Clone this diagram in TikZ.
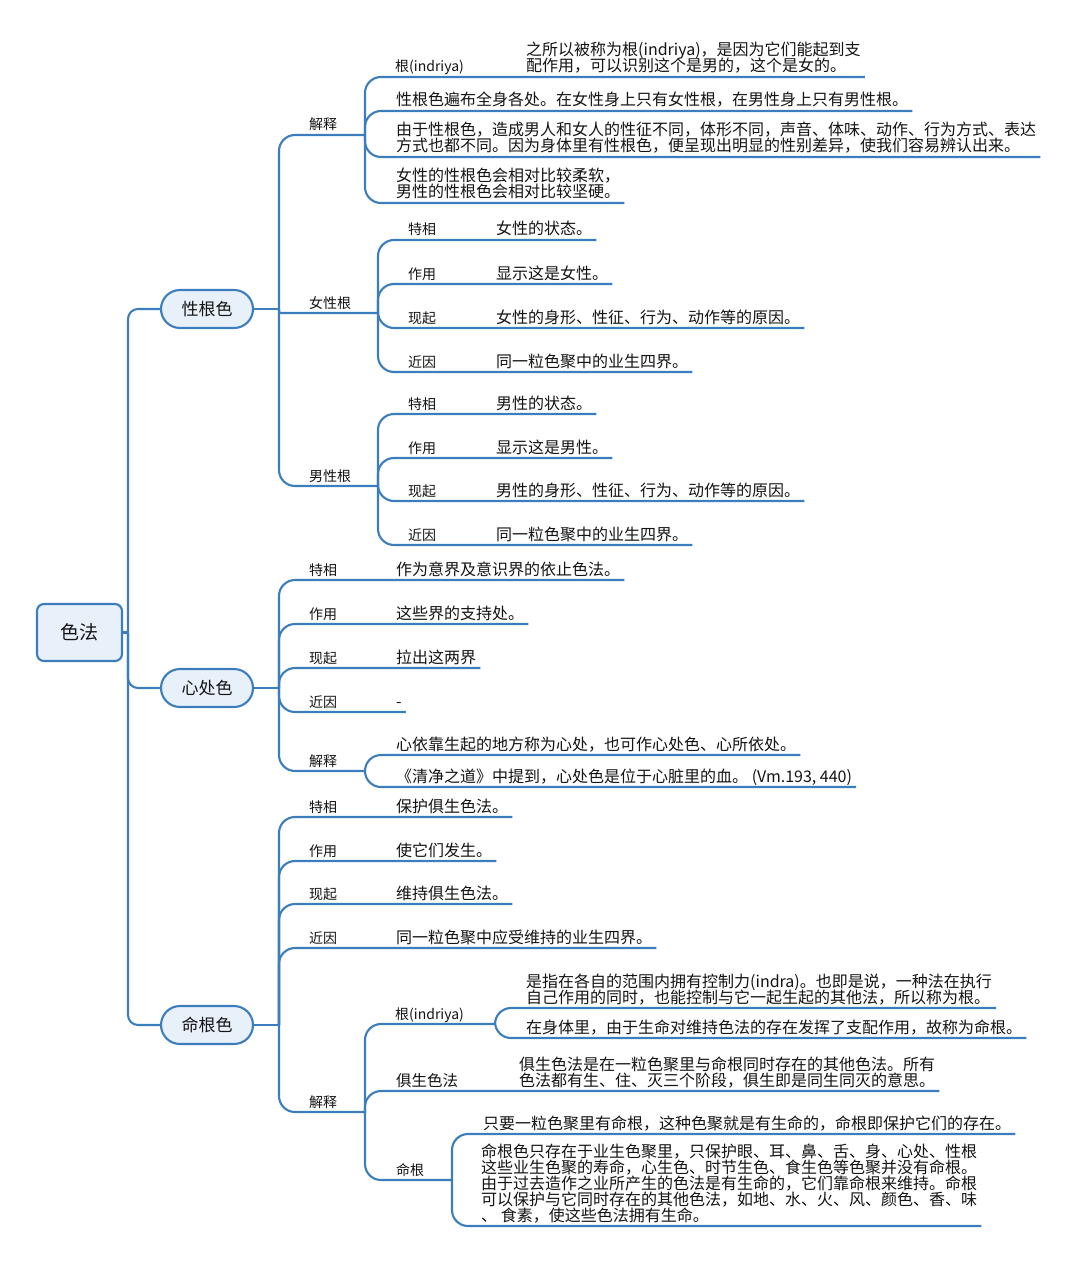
\documentclass[tikz,border=0pt]{standalone}
\usepackage{fontspec}
\setmainfont{Noto Sans CJK SC}
\definecolor{lnblue}{RGB}{59,125,189}
\definecolor{ndfill}{RGB}{232,241,250}
\definecolor{txt}{RGB}{20,20,20}
\newcommand\ml[1]{\vbox{\baselineskip=16pt\lineskiplimit=-20pt #1}}
\tikzset{
  conn/.style={draw=lnblue, line width=2.1pt, rounded corners=16pt},
  lbl/.style={anchor=base west, inner sep=0pt, font=\fontsize{14}{16}\selectfont, text=txt},
  dsc/.style={anchor=base west, inner sep=0pt, font=\fontsize{16}{16}\selectfont, text=txt},
  topic/.style={draw=lnblue, fill=ndfill, line width=2.1pt, rounded corners=19pt,
    minimum width=92pt, minimum height=38pt, inner sep=0pt, font=\fontsize{17}{17}\selectfont, text=txt},
  rootbox/.style={draw=lnblue, fill=ndfill, line width=2.1pt, rounded corners=7pt,
    minimum width=85pt, minimum height=57pt, inner sep=0pt, font=\fontsize{19}{19}\selectfont, text=txt},
  endp/.style={xshift=4pt, yshift=-5pt}
}
\begin{document}
\begin{tikzpicture}[x=1pt, y=-1pt]
\fill[white] (0,0) rectangle (1080,1265);
\useasboundingbox (0,0) rectangle (1080,1265);

% ---------- root and main topics ----------
\node[rootbox] (root) at (79.5,632.5) {色法};
\node[topic] (xg) at (207,309) {性根色};
\node[topic] (xc) at (207,688) {心处色};
\node[topic] (mg) at (207,1025) {命根色};
\coordinate (trunk) at (128,632.5);
\draw[conn] (root.east) -- (trunk);
\draw[conn, rounded corners=10pt] (trunk) |- (xg.west);
\draw[conn, rounded corners=10pt] (trunk) |- (xc.west);
\draw[conn, rounded corners=10pt] (trunk) |- (mg.west);

% ---------- 性根色 ----------
\coordinate (jxg) at (279,309);
\draw[conn] (xg.east) -- (jxg);

\node[lbl] (xgjs) at (309,130) {解释};
\coordinate (jxgjs) at (365,135);
\draw[conn] (jxg) |- (jxgjs);

\node[lbl] (xggen) at (395,72) {根(indriya)};
\node[dsc] (xggend) at (526,72) {\ml{\hbox{之所以被称为根(indriya)，是因为它们能起到支}\hbox{配作用，可以识别这个是男的，这个是女的。}}};
\draw[conn] (jxgjs) |- ([endp]xggend.base east);

\node[dsc] (xgjs2) at (396,106) {性根色遍布全身各处。在女性身上只有女性根，在男性身上只有男性根。};
\draw[conn] (jxgjs) |- ([endp]xgjs2.base east);

\node[dsc] (xgjs3) at (396,152) {\ml{\hbox{由于性根色，造成男人和女人的性征不同，体形不同，声音、体味、动作、行为方式、表达}\hbox{方式也都不同。因为身体里有性根色，便呈现出明显的性别差异，使我们容易辨认出来。}}};
\draw[conn] (jxgjs) |- ([endp]xgjs3.base east);

\node[dsc] (xgjs4) at (396,198) {\ml{\hbox{女性的性根色会相对比较柔软，}\hbox{男性的性根色会相对比较坚硬。}}};
\draw[conn] (jxgjs) |- ([endp]xgjs4.base east);

% 女性根
\node[lbl] (nv) at (309,308) {女性根};
\coordinate (jnv) at (378,313);
\draw[conn, rounded corners=2pt] (jxg) |- (jnv);

\node[lbl] (nv1) at (408,235) {特相};
\node[dsc] (nv1d) at (496,235) {女性的状态。};
\draw[conn] (jnv) |- ([endp]nv1d.base east);
\node[lbl] (nv2) at (408,279) {作用};
\node[dsc] (nv2d) at (496,279) {显示这是女性。};
\draw[conn] (jnv) |- ([endp]nv2d.base east);
\node[lbl] (nv3) at (408,323) {现起};
\node[dsc] (nv3d) at (496,323) {女性的身形、性征、行为、动作等的原因。};
\draw[conn] (jnv) |- ([endp]nv3d.base east);
\node[lbl] (nv4) at (408,367) {近因};
\node[dsc] (nv4d) at (496,367) {同一粒色聚中的业生四界。};
\draw[conn] (jnv) |- ([endp]nv4d.base east);

% 男性根
\node[lbl] (nan) at (309,481) {男性根};
\coordinate (jnan) at (378,486);
\draw[conn] (jxg) |- (jnan);

\node[lbl] (nan1) at (408,409) {特相};
\node[dsc] (nan1d) at (496,409) {男性的状态。};
\draw[conn] (jnan) |- ([endp]nan1d.base east);
\node[lbl] (nan2) at (408,453) {作用};
\node[dsc] (nan2d) at (496,453) {显示这是男性。};
\draw[conn] (jnan) |- ([endp]nan2d.base east);
\node[lbl] (nan3) at (408,496) {现起};
\node[dsc] (nan3d) at (496,496) {男性的身形、性征、行为、动作等的原因。};
\draw[conn] (jnan) |- ([endp]nan3d.base east);
\node[lbl] (nan4) at (408,540) {近因};
\node[dsc] (nan4d) at (496,540) {同一粒色聚中的业生四界。};
\draw[conn] (jnan) |- ([endp]nan4d.base east);

% ---------- 心处色 ----------
\coordinate (jxc) at (279,688);
\draw[conn] (xc.east) -- (jxc);

\node[lbl] (xc1) at (309,575) {特相};
\node[dsc] (xc1d) at (396,575) {作为意界及意识界的依止色法。};
\draw[conn] (jxc) |- ([endp]xc1d.base east);
\node[lbl] (xc2) at (309,619) {作用};
\node[dsc] (xc2d) at (396,619) {这些界的支持处。};
\draw[conn] (jxc) |- ([endp]xc2d.base east);
\node[lbl] (xc3) at (309,663) {现起};
\node[dsc] (xc3d) at (396,663) {拉出这两界};
\draw[conn] (jxc) |- ([endp]xc3d.base east);
\node[lbl] (xc4) at (309,707) {近因};
\node[dsc] (xc4d) at (396,707) {-};
\draw[conn] (jxc) |- ([endp]xc4d.base east);

\node[lbl] (xcjs) at (309,766) {解释};
\coordinate (jxcjs) at (365,771);
\draw[conn] (jxc) |- (jxcjs);
\node[dsc] (xcjs1) at (396,750) {心依靠生起的地方称为心处，也可作心处色、心所依处。};
\draw[conn] (jxcjs) |- ([endp]xcjs1.base east);
\node[dsc] (xcjs2) at (396,782) {《清净之道》中提到，心处色是位于心脏里的血。 (Vm.193, 440)};
\draw[conn] (jxcjs) |- ([endp]xcjs2.base east);

% ---------- 命根色 ----------
\coordinate (jmg) at (279,1025);
\draw[conn] (mg.east) -- (jmg);

\node[lbl] (mg1) at (309,812) {特相};
\node[dsc] (mg1d) at (396,812) {保护俱生色法。};
\draw[conn] (jmg) |- ([endp]mg1d.base east);
\node[lbl] (mg2) at (309,856) {作用};
\node[dsc] (mg2d) at (396,856) {使它们发生。};
\draw[conn] (jmg) |- ([endp]mg2d.base east);
\node[lbl] (mg3) at (309,899) {现起};
\node[dsc] (mg3d) at (396,899) {维持俱生色法。};
\draw[conn] (jmg) |- ([endp]mg3d.base east);
\node[lbl] (mg4) at (309,943) {近因};
\node[dsc] (mg4d) at (396,943) {同一粒色聚中应受维持的业生四界。};
\draw[conn] (jmg) |- ([endp]mg4d.base east);

\node[lbl] (mgjs) at (309,1107) {解释};
\coordinate (jmgjs) at (365,1112);
\draw[conn] (jmg) |- (jmgjs);

% 根(indriya)
\node[lbl] (mggen) at (395,1019) {根(indriya)};
\coordinate (jmggen) at (495,1024);
\draw[conn] (jmgjs) |- (jmggen);
\node[dsc] (mggen1) at (526,1003) {\ml{\hbox{是指在各自的范围内拥有控制力(indra)。也即是说，一种法在执行}\hbox{自己作用的同时，也能控制与它一起生起的其他法，所以称为根。}}};
\draw[conn] (jmggen) |- ([endp]mggen1.base east);
\node[dsc] (mggen2) at (526,1033) {在身体里，由于生命对维持色法的存在发挥了支配作用，故称为命根。};
\draw[conn] (jmggen) |- ([endp]mggen2.base east);

% 俱生色法
\node[lbl, font=\fontsize{15.5}{16}\selectfont] (jus) at (396,1086) {俱生色法};
\node[dsc] (jusd) at (519,1086) {\ml{\hbox{俱生色法是在一粒色聚里与命根同时存在的其他色法。所有}\hbox{色法都有生、住、灭三个阶段，俱生即是同生同灭的意思。}}};
\draw[conn] (jmgjs) |- ([endp]jusd.base east);

% 命根
\node[lbl] (mgn) at (396,1175) {命根};
\coordinate (jmgn) at (452,1180);
\draw[conn] (jmgjs) |- (jmgn);
\node[dsc] (mgn1) at (483,1129) {只要一粒色聚里有命根，这种色聚就是有生命的，命根即保护它们的存在。};
\draw[conn] (jmgn) |- ([endp]mgn1.base east);
\node[dsc] (mgn2) at (481,1221) {\ml{\hbox{命根色只存在于业生色聚里，只保护眼、耳、鼻、舌、身、心处、性根}\hbox{这些业生色聚的寿命，心生色、时节生色、食生色等色聚并没有命根。}\hbox{由于过去造作之业所产生的色法是有生命的，它们靠命根来维持。命根}\hbox{可以保护与它同时存在的其他色法，如地、水、火、风、颜色、香、味}\hbox{、 食素，使这些色法拥有生命。}}};
\draw[conn] (jmgn) |- ([endp]mgn2.base east);
\end{tikzpicture}
\end{document}
